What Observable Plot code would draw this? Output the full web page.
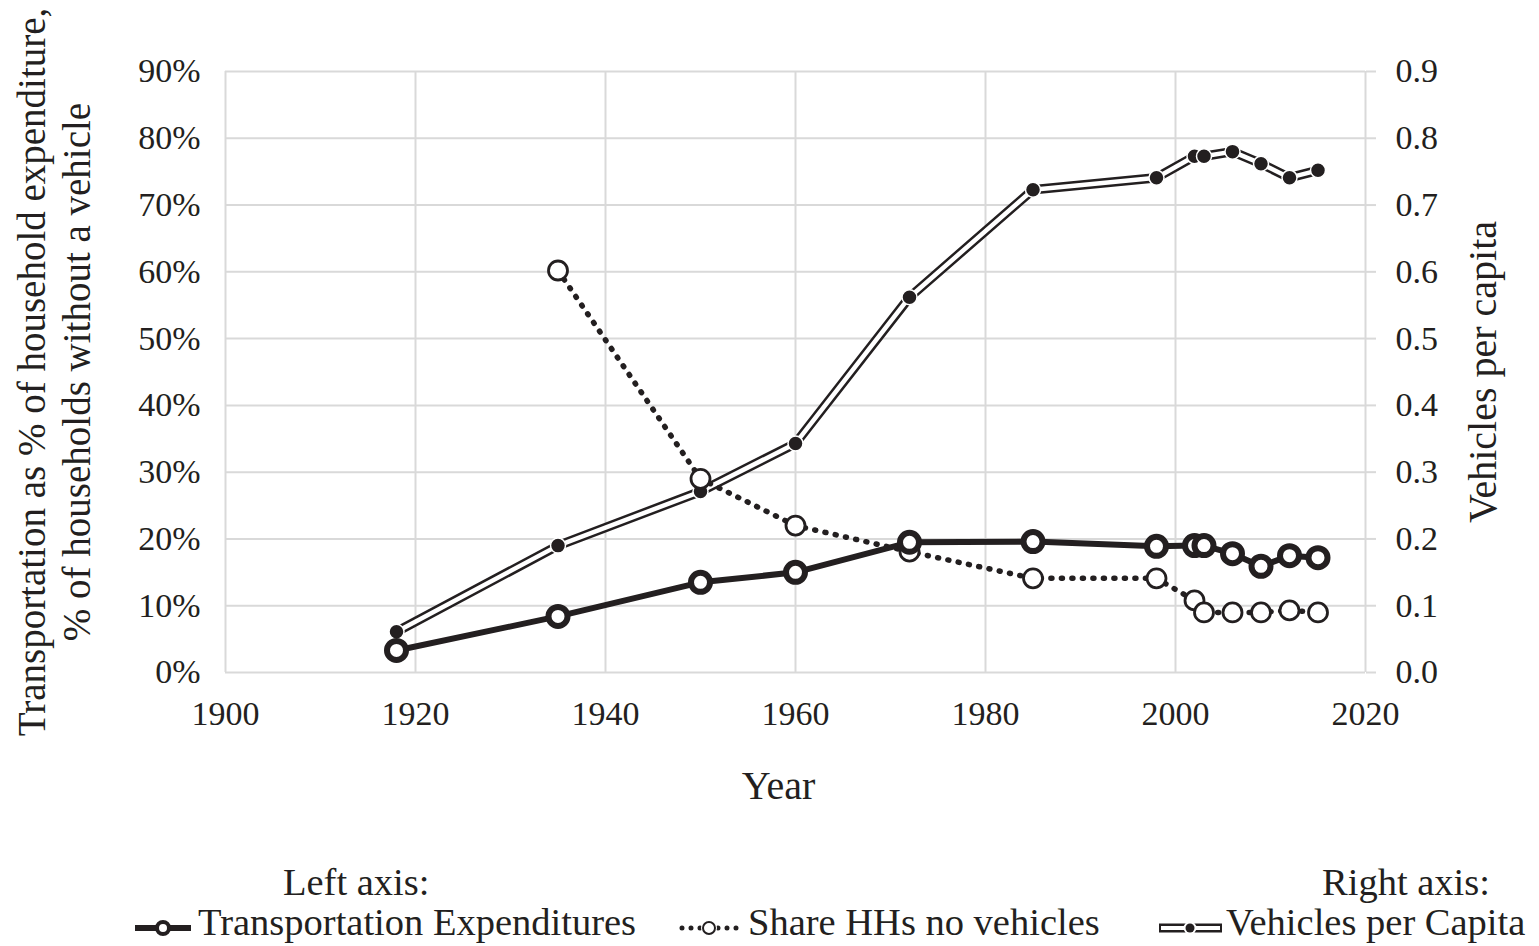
<!DOCTYPE html>
<html>
<head>
<meta charset="utf-8">
<script src="https://cdn.jsdelivr.net/npm/d3@7"></script>
<script src="https://cdn.jsdelivr.net/npm/@observablehq/plot@0.6"></script>
<style>
  html, body { margin: 0; padding: 0; background: #fff; }
  #wrap { position: relative; width: 1539px; height: 946px; overflow: hidden; font-family: "Liberation Serif", "Times New Roman", serif; color: #231f20; }
  #chart { position: absolute; left: 0; top: 0; }
  .lg { position: absolute; font-size: 38.5px; line-height: 38px; white-space: nowrap; }
  .sw { position: absolute; }
</style>
</head>
<body>
<div id="wrap">
  <div id="chart"></div>
  <div class="lg" style="left:283px; top:863px;">Left axis:</div>
  <div class="lg" style="left:1322px; top:863px;">Right axis:</div>
  <svg class="sw" style="left:130px; top:913px;" width="66" height="30">
    <line x1="5" y1="15" x2="61" y2="15" stroke="#231f20" stroke-width="6"/>
    <circle cx="33" cy="15" r="6" fill="#fff" stroke="#231f20" stroke-width="4"/>
  </svg>
  <div class="lg" style="left:198px; top:903px;">Transportation Expenditures</div>
  <svg class="sw" style="left:676px; top:913px;" width="72" height="30">
    <line x1="6" y1="15" x2="68" y2="15" stroke="#231f20" stroke-width="5" stroke-linecap="round" stroke-dasharray="0 9"/>
    <circle cx="33" cy="15" r="6.5" fill="#fff" stroke="#fff" stroke-width="3"/>
    <circle cx="33" cy="15" r="6" fill="#fff" stroke="#231f20" stroke-width="2"/>
  </svg>
  <div class="lg" style="left:748px; top:903px;">Share HHs no vehicles</div>
  <svg class="sw" style="left:1154px; top:913px;" width="72" height="30">
    <line x1="5" y1="15" x2="68" y2="15" stroke="#231f20" stroke-width="9"/>
    <line x1="7" y1="15" x2="66" y2="15" stroke="#fff" stroke-width="4"/>
    <circle cx="36" cy="15" r="6.5" fill="#fff"/>
    <circle cx="36" cy="15" r="4.5" fill="#231f20"/>
  </svg>
  <div class="lg" style="left:1226px; top:903px;">Vehicles per Capita</div>
</div>
<script>
// ---- data ----
const years = [1918, 1935, 1950, 1960, 1972, 1985, 1998, 2002, 2003, 2006, 2009, 2012, 2015];
const transportExp = [0.033, 0.084, 0.135, 0.150, 0.195, 0.196, 0.189, 0.190, 0.190, 0.178, 0.159, 0.175, 0.172];
const vehPerCap = [0.061, 0.190, 0.271, 0.343, 0.562, 0.723, 0.741, 0.773, 0.773, 0.780, 0.762, 0.741, 0.752];
const shareYears = [1935, 1950, 1960, 1972, 1985, 1998, 2002, 2003, 2006, 2009, 2012, 2015];
const shareNoVeh = [0.602, 0.290, 0.220, 0.181, 0.141, 0.141, 0.108, 0.090, 0.090, 0.090, 0.093, 0.090];
const xTicks = [1900, 1920, 1940, 1960, 1980, 2000, 2020];
const yTicks = [0, 0.1, 0.2, 0.3, 0.4, 0.5, 0.6, 0.7, 0.8, 0.9];
const leftTitle1 = "Transportation as % of household expenditure,";
const leftTitle2 = "% of households without a vehicle";
const rightTitle = "Vehicles per capita";
const xTitle = "Year";

const main = years.map((yr, i) => ({year: yr, transport: transportExp[i], vehicles: vehPerCap[i]}));
const share = shareYears.map((yr, i) => ({year: yr, share: shareNoVeh[i]}));

const ink = "#231f20";
const grid = "#d9d9d9";

const chart = Plot.plot({
  width: 1539,
  height: 830,
  marginLeft: 225,
  marginRight: 174,
  marginTop: 71,
  marginBottom: 158,
  x: {domain: [1900, 2020]},
  y: {domain: [0, 0.9]},
  style: {fontFamily: "'Liberation Serif', 'Times New Roman', serif", fontSize: "34px", color: ink, background: "#fff", overflow: "visible"},
  marks: [
    Plot.gridY(yTicks, {stroke: grid, strokeOpacity: 1, strokeWidth: 2}),
    Plot.gridX(xTicks, {stroke: grid, strokeOpacity: 1, strokeWidth: 2}),
    Plot.axisY(yTicks, {anchor: "left", tickSize: 0, tickPadding: 25, tickFormat: d3.format(".0%"), label: null, fill: ink}),
    Plot.axisY(yTicks, {anchor: "right", tickSize: 10, tickPadding: 20, tickFormat: d3.format(".1f"), label: null, stroke: grid, strokeWidth: 2, fill: ink}),
    Plot.axisX(xTicks, {anchor: "bottom", tickSize: 0, tickPadding: 28, tickFormat: d3.format("d"), label: null, fill: ink}),
    // Vehicles per capita: double line
    Plot.line(main, {x: "year", y: "vehicles", stroke: ink, strokeWidth: 9.5}),
    Plot.line(main, {x: "year", y: "vehicles", stroke: "#fff", strokeWidth: 4.5}),
    Plot.dot(main, {x: "year", y: "vehicles", r: 7.5, fill: ink, stroke: "#fff", strokeWidth: 1.5}),
    // Share HHs no vehicles: dotted line
    Plot.line(share, {x: "year", y: "share", stroke: ink, strokeWidth: 5.5, strokeDasharray: "1 9.5", strokeLinecap: "round"}),
    Plot.dot(share, {x: "year", y: "share", r: 9.5, fill: "#fff", stroke: ink, strokeWidth: 2.8}),
    // Transportation expenditures: thick line
    Plot.line(main, {x: "year", y: "transport", stroke: ink, strokeWidth: 6}),
    Plot.dot(main, {x: "year", y: "transport", r: 9.5, fill: "#fff", stroke: ink, strokeWidth: 6}),
    // titles
    Plot.text([leftTitle1], {frameAnchor: "left", rotate: -90, dx: -193, textAnchor: "middle", lineAnchor: "middle", fontSize: 39, fill: ink}),
    Plot.text([leftTitle2], {frameAnchor: "left", rotate: -90, dx: -148, textAnchor: "middle", lineAnchor: "middle", fontSize: 39, fill: ink}),
    Plot.text([rightTitle], {frameAnchor: "right", rotate: -90, dx: 118, textAnchor: "middle", lineAnchor: "middle", fontSize: 40, fill: ink}),
    Plot.text([xTitle], {frameAnchor: "bottom", dx: -17, dy: 98, textAnchor: "middle", lineAnchor: "top", fontSize: 40, fill: ink})
  ]
});
document.getElementById("chart").appendChild(chart);
</script>
</body>
</html>
